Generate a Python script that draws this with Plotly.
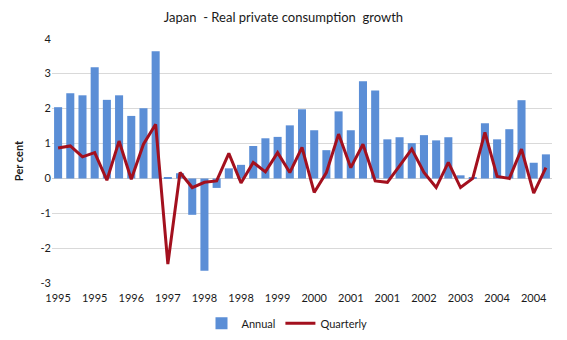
import plotly.graph_objects as go

# Quarters from 1995 Q1 to 2005 Q1
quarters = [f"{y}Q{q}" for y in range(1995, 2006) for q in range(1, 5)][:41]

# Annual growth (bars), per cent
annual = [2.04, 2.44, 2.38, 3.18, 2.25, 2.38, 1.79, 2.01, 3.64, 0.02,
          0.15, -1.04, -2.64, -0.27, 0.29, 0.39, 0.93, 1.15, 1.19, 1.52,
          1.98, 1.38, 0.81, 1.92, 1.38, 2.78, 2.52, 1.12, 1.18, 1.01,
          1.24, 1.09, 1.18, 0.09, 0.03, 1.58, 1.12, 1.41, 2.24, 0.45,
          0.69]

# Quarterly growth (line), per cent
quarterly = [0.87, 0.93, 0.62, 0.74, -0.05, 1.07, -0.02, 0.98, 1.55, -2.45,
             0.17, -0.26, -0.11, -0.07, 0.72, -0.13, 0.46, 0.19, 0.74, 0.17,
             0.89, -0.40, 0.17, 1.27, 0.31, 0.98, -0.07, -0.11, 0.36, 0.84,
             0.17, -0.26, 0.46, -0.26, 0.00, 1.32, 0.06, 0.00, 0.84, -0.42,
             0.31]

# Axis labels: every third quarter shows its year
tick_idx = list(range(0, 41, 3))
tick_text = ["1995", "1995", "1996", "1997", "1998", "1998", "1999",
             "2000", "2001", "2001", "2002", "2003", "2004", "2004"]
y_ticks = [4, 3, 2, 1, 0, -1, -2, -3]
y_tick_text = [str(v) for v in y_ticks]

FONT = "Lato, 'Liberation Sans', sans-serif"

fig = go.Figure()
fig.add_trace(go.Bar(
    x=quarters, y=annual, name="Annual",
    marker=dict(color="#5B8ED6", line=dict(width=0)),
))
fig.add_trace(go.Scatter(
    x=quarters, y=quarterly, name="Quarterly", mode="lines",
    line=dict(color="#A3101E", width=3),
))

fig.update_layout(
    width=567, height=340,
    margin=dict(l=52, r=15, t=38, b=56, autoexpand=False),
    paper_bgcolor="white", plot_bgcolor="white",
    font=dict(family=FONT, size=11, color="#1a1a1a"),
    title=dict(text="Japan  - Real private consumption  growth",
               x=0.5, xanchor="center", y=0.95, yanchor="middle",
               font=dict(family=FONT, size=13, color="#1a1a1a")),
    bargap=0.34,
    showlegend=True,
    legend=dict(orientation="h", x=0.47, xanchor="center",
                y=-0.16, yanchor="middle",
                font=dict(family=FONT, size=11, color="#1a1a1a"),
                itemwidth=30, tracegroupgap=0, bgcolor="rgba(0,0,0,0)"),
)

fig.update_xaxes(
    type="category", categoryorder="array", categoryarray=quarters,
    range=[-0.5, 40.5],
    tickmode="array", tickvals=[quarters[i] for i in tick_idx], ticktext=tick_text,
    tickangle=0, showgrid=False, ticks="", showline=False,
    ticklabelstandoff=6,
    tickfont=dict(size=11, color="#1a1a1a"),
)
fig.update_yaxes(
    range=[-3.02, 4.02], tickmode="array", tickvals=y_ticks, ticktext=y_tick_text,
    showgrid=True, gridcolor="#D9D9D9", gridwidth=1,
    zeroline=True, zerolinecolor="#D0D0D0", zerolinewidth=1,
    ticks="", showline=False,
    tickfont=dict(size=11, color="#1a1a1a"),
    title=dict(text="<b>Per cent</b>", standoff=14,
               font=dict(family=FONT, size=11, color="#1a1a1a")),
)

fig.write_html("out.html")
